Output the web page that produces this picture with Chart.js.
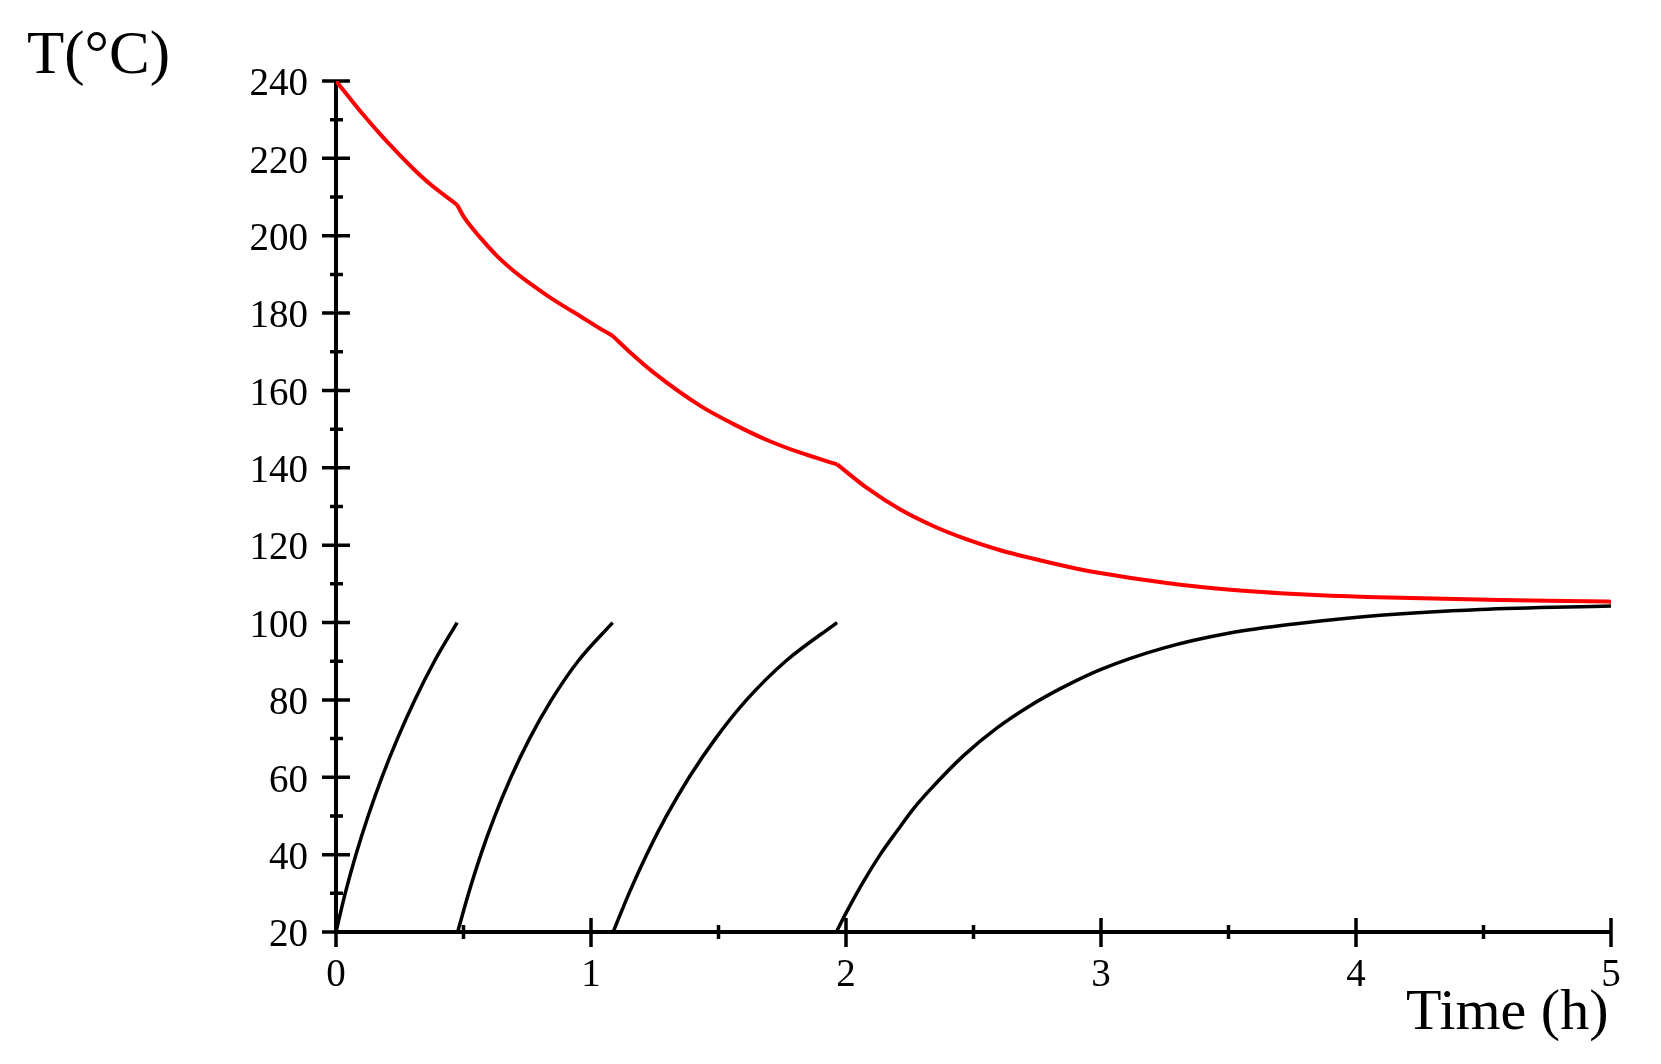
<!DOCTYPE html>
<html>
<head>
<meta charset="utf-8">
<script src="https://cdn.jsdelivr.net/npm/chart.js@4.4.0/dist/chart.umd.min.js"></script>
<style>
body{margin:0;background:#fff;}
#wrap{position:relative;width:1661px;height:1064px;}
.lbl{position:absolute;font-family:'Liberation Serif','Times New Roman',serif;color:#000;line-height:1;white-space:nowrap;}
</style>
</head>
<body>
<div id="wrap">
<canvas id="myChart" width="1661" height="1064"></canvas>
<div class="lbl" style="left:27px;top:22px;font-size:61px;">T(°C)</div>
<div class="lbl" style="left:1406px;top:981px;font-size:58px;">Time (h)</div>
</div>
<script>
// axis ticks
var xTicks = [0, 1, 2, 3, 4, 5];
var xMinor = [0.5, 1.5, 2.5, 3.5, 4.5];
var yTicks = [20, 40, 60, 80, 100, 120, 140, 160, 180, 200, 220, 240];
var yMinor = [30, 50, 70, 90, 110, 130, 150, 170, 190, 210, 230];

// hot side (red), split at each new batch
var hotTime1 = [0, 0.056, 0.108, 0.174, 0.239, 0.305, 0.370, 0.475];
var hotTemp1 = [240, 235.4, 231.2, 226.2, 221.6, 217.2, 213.3, 208.0];
var hotTime2 = [0.475, 0.5, 0.566, 0.631, 0.697, 0.762, 0.827, 0.893, 0.958, 1.023, 1.085];
var hotTemp2 = [208.0, 205.0, 199.5, 194.8, 190.9, 187.6, 184.6, 181.8, 179.2, 176.5, 174.1];
var hotTime3 = [1.085, 1.154, 1.246, 1.429, 1.559, 1.690, 1.821, 1.965];
var hotTemp3 = [174.1, 169.8, 164.6, 156.0, 151.3, 147.2, 143.9, 140.9];
var hotTime4 = [1.965, 2.082, 2.213, 2.344, 2.474, 2.605, 2.736, 2.866, 2.997, 3.258, 3.520, 3.781, 4.043, 4.304, 4.566, 4.827, 5.0];
var hotTemp4 = [140.9, 134.8, 129.2, 124.9, 121.5, 118.7, 116.5, 114.5, 112.8, 110.2, 108.4, 107.3, 106.6, 106.2, 105.8, 105.55, 105.4];

// cold batches (black)
var coldTime1 = [0, 0.036, 0.078, 0.126, 0.180, 0.241, 0.309, 0.386, 0.475];
var coldTemp1 = [20, 30, 40, 50, 60, 70, 80, 90, 100];
var coldTime2 = [0.477, 0.520, 0.568, 0.623, 0.686, 0.759, 0.845, 0.949, 1.085];
var coldTemp2 = [20, 30, 40, 50, 60, 70, 80, 90, 100];
var coldTime3 = [1.087, 1.149, 1.218, 1.296, 1.385, 1.488, 1.610, 1.763, 1.965];
var coldTemp3 = [20, 30, 40, 50, 60, 70, 80, 90, 100];
var coldTime4 = [1.962, 2.004, 2.069, 2.134, 2.2, 2.265, 2.33, 2.461, 2.591, 2.722, 2.852, 3.0, 3.244, 3.505, 3.766, 4.095, 4.487, 5.0];
var coldTemp4 = [20, 25.4, 33.1, 40.0, 46.1, 51.9, 56.8, 65.6, 72.7, 78.5, 83.3, 87.9, 93.4, 97.3, 99.7, 101.9, 103.4, 104.3];

function pts(xs, ys){
	var out = [];
	for (var i = 0; i < xs.length; i++) {
		out.push({x: xs[i], y: ys[i]});
	}
	return out;
}

function line(xs, ys, color, w){
	return {
		data: pts(xs, ys),
		showLine: true,
		borderColor: color,
		borderWidth: w,
		pointRadius: 0,
		fill: false,
		cubicInterpolationMode: 'monotone'
	};
}

var tickFont = {family: "'Liberation Serif', 'Times New Roman', serif", size: 39};

var axisPlugin = {
	id: 'crossAxes',
	beforeDatasetsDraw: function(chart){
		var ctx = chart.ctx;
		var xs = chart.scales.x, ys = chart.scales.y;
		var x0 = xs.getPixelForValue(0), x5 = xs.getPixelForValue(5);
		var y20 = ys.getPixelForValue(20), y240 = ys.getPixelForValue(240);
		var i, p;
		ctx.save();
		ctx.strokeStyle = '#000';
		ctx.lineCap = 'butt';
		ctx.lineWidth = 4;
		ctx.beginPath();
		ctx.moveTo(x0, y20); ctx.lineTo(x5, y20);
		ctx.moveTo(x0, y20 + 2); ctx.lineTo(x0, y240);
		ctx.stroke();

		ctx.lineWidth = 3.5;
		ctx.beginPath();
		for (i = 0; i < yTicks.length; i++) {
			p = ys.getPixelForValue(yTicks[i]);
			ctx.moveTo(x0 - 14, p); ctx.lineTo(x0 + 14, p);
		}
		for (i = 0; i < yMinor.length; i++) {
			p = ys.getPixelForValue(yMinor[i]);
			ctx.moveTo(x0 - 6, p); ctx.lineTo(x0 + 7, p);
		}
		for (i = 0; i < xTicks.length; i++) {
			p = xs.getPixelForValue(xTicks[i]);
			ctx.moveTo(p, y20 - 14); ctx.lineTo(p, y20 + 15);
		}
		for (i = 0; i < xMinor.length; i++) {
			p = xs.getPixelForValue(xMinor[i]);
			ctx.moveTo(p, y20 - 7); ctx.lineTo(p, y20 + 7);
		}
		ctx.stroke();
		ctx.restore();
	}
};

var ctx1 = document.getElementById('myChart').getContext('2d');
new Chart(ctx1, {
	type: 'scatter',
	data: {
		datasets: [
			line(hotTime1, hotTemp1, '#ff0000', 4),
			line(hotTime2, hotTemp2, '#ff0000', 4),
			line(hotTime3, hotTemp3, '#ff0000', 4),
			line(hotTime4, hotTemp4, '#ff0000', 4),
			line(coldTime1, coldTemp1, '#000000', 3.5),
			line(coldTime2, coldTemp2, '#000000', 3.5),
			line(coldTime3, coldTemp3, '#000000', 3.5),
			line(coldTime4, coldTemp4, '#000000', 3.5)
		]
	},
	options: {
		responsive: false,
		animation: false,
		events: [],
		layout: {padding: {left: 0, top: 81, right: 50, bottom: 0}},
		plugins: {
			legend: {display: false},
			tooltip: {enabled: false}
		},
		scales: {
			x: {
				type: 'linear',
				min: 0,
				max: 5,
				grid: {display: false, drawTicks: false},
				border: {display: false},
				ticks: {color: '#000', font: tickFont, padding: 20, maxRotation: 0, autoSkip: false},
				afterBuildTicks: function(s){
					s.ticks = xTicks.map(function(v){ return {value: v}; });
				},
				afterFit: function(s){ s.height = 132; }
			},
			y: {
				type: 'linear',
				min: 20,
				max: 240,
				grid: {display: false, drawTicks: false},
				border: {display: false},
				ticks: {color: '#000', font: tickFont, padding: 28, labelOffset: 4, autoSkip: false},
				afterBuildTicks: function(s){
					s.ticks = yTicks.map(function(v){ return {value: v}; });
				},
				afterFit: function(s){ s.width = 336; }
			}
		}
	},
	plugins: [axisPlugin]
});
</script>
</body>
</html>
